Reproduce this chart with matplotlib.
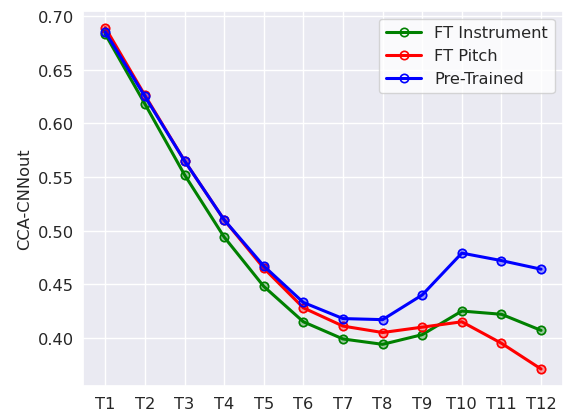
import matplotlib
matplotlib.use("Agg")
import matplotlib.pyplot as plt
import seaborn as sns

sns.set_theme(style="darkgrid")
plt.rcParams['font.family'] = ['DejaVu Sans']

layers = ["T1", "T2", "T3", "T4", "T5", "T6", "T7", "T8", "T9", "T10", "T11", "T12"]
ft_instrument = [0.683, 0.618, 0.552, 0.494, 0.448, 0.415, 0.399, 0.394, 0.403, 0.425, 0.422, 0.407]
ft_pitch = [0.689, 0.626, 0.565, 0.510, 0.465, 0.428, 0.411, 0.405, 0.410, 0.415, 0.395, 0.371]
pre_trained = [0.685, 0.625, 0.565, 0.510, 0.467, 0.433, 0.418, 0.417, 0.440, 0.479, 0.472, 0.464]

fig, ax = plt.subplots(figsize=(5.64, 4.14), dpi=100)
x = list(range(len(layers)))
for vals, col, lab in [(ft_instrument, "green", "FT Instrument"),
                       (ft_pitch, "red", "FT Pitch"),
                       (pre_trained, "blue", "Pre-Trained")]:
    ax.plot(x, vals, color=col, lw=2.2, label=lab, marker="o", ms=6,
            mfc=(0, 0, 0, 0), mec=col, mew=1.2)
    ax.plot(x, vals, color=col, lw=0, marker="o", ms=6, alpha=0.35)

ax.set_xticks(x)
ax.set_xticklabels(layers)
ax.set_ylabel("CCA-CNNout", fontsize=11.7)
ax.tick_params(labelsize=11.7, length=0)
ax.tick_params(axis="x", pad=7)
ax.tick_params(axis="y", pad=7)
ax.legend(loc="upper right", fontsize=11.7, facecolor="white", framealpha=0.8,
          handlelength=2.2)
fig.subplots_adjust(left=0.148, right=0.998, top=0.972, bottom=0.065)
fig.savefig("out.png", dpi=100)
